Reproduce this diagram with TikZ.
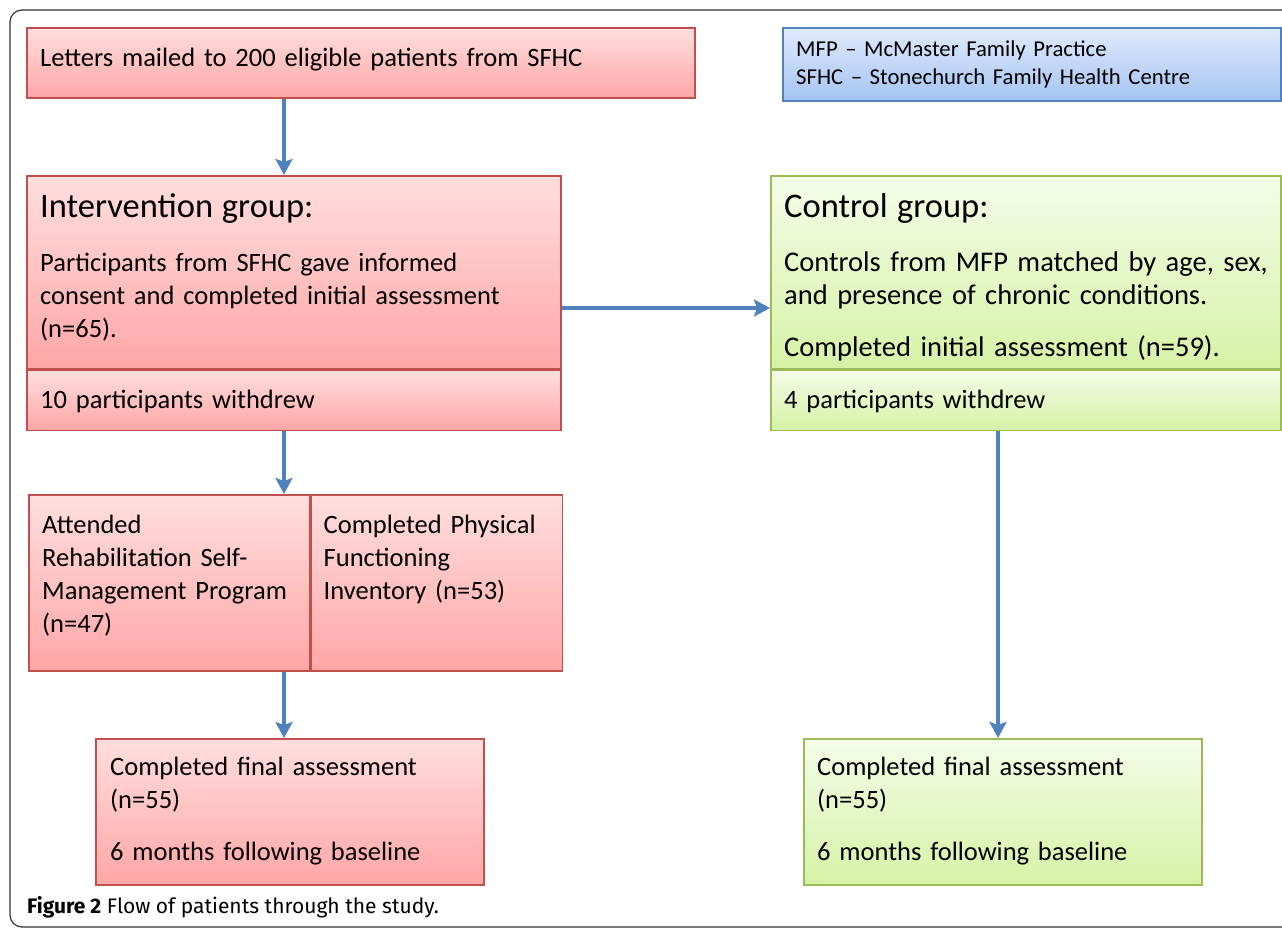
\documentclass[tikz,border=0pt]{standalone}
\usepackage{fontspec}
\setmainfont{Carlito}
\newfontfamily\captionfont{Fira Sans}
\usetikzlibrary{positioning,arrows.meta}
\definecolor{redline}{HTML}{C0504D}
\definecolor{redtop}{HTML}{FFDEDE}
\definecolor{redbot}{HTML}{FFA6A6}
\definecolor{greenline}{HTML}{9BBB59}
\definecolor{greentop}{HTML}{F4FCE8}
\definecolor{greenbot}{HTML}{D6F2A6}
\definecolor{blueline}{HTML}{4F81BD}
\definecolor{bluetop}{HTML}{DFEAFC}
\definecolor{bluebot}{HTML}{A6C4F2}
\definecolor{frameline}{HTML}{333333}
\newcommand{\titlesize}{\fontsize{34.5}{33}\selectfont}
\begin{document}
\begin{tikzpicture}[
        x=1pt, y=-1pt,
        redbox/.style={draw=redline, line width=1.5pt, top color=redtop, bottom color=redbot, inner sep=0pt},
        greenbox/.style={draw=greenline, line width=1.5pt, top color=greentop, bottom color=greenbot, inner sep=0pt},
        bluebox/.style={draw=blueline, line width=1.5pt, top color=bluetop, bottom color=bluebot, inner sep=0pt},
        boxtext/.style={anchor=base west, inner sep=0pt, align=left, text width=#1, font=\fontsize{26.5}{33}\selectfont},
        flowarrow/.style={draw=blueline, line width=4pt, -{Stealth[length=16pt, width=17pt, inset=3pt]}}
        ]
        \clip (0,0) rectangle (1282,929);
        \useasboundingbox (0,0) rectangle (1282,929);
        \fill[white] (0,0) rectangle (1282,929);
        \draw[frameline, line width=1.2pt, rounded corners=12pt] (10,10) rectangle (1320,927);

        % Boxes
        \node[redbox, anchor=north west, minimum width=668pt, minimum height=70pt] (letters) at (26,27) {};
        \node[bluebox, anchor=north west, minimum width=498pt, minimum height=73pt] (legend) at (782,27) {};
        \node[redbox, anchor=north west, minimum width=534pt, minimum height=193pt] (intervention) at (26,175) {};
        \node[redbox, minimum width=534pt, minimum height=60pt, below=0pt of intervention] (withdrawL) {};
        \node[greenbox, anchor=north west, minimum width=510pt, minimum height=193pt] (control) at (770,175) {};
        \node[greenbox, minimum width=510pt, minimum height=60pt, below=0pt of control] (withdrawR) {};
        \node[redbox, anchor=north west, minimum width=281pt, minimum height=176pt] (attended) at (28,494) {};
        \node[redbox, minimum width=251pt, minimum height=176pt, right=0pt of attended] (physical) {};
        \node[redbox, anchor=north west, minimum width=388pt, minimum height=146pt] (finalL) at (95,738) {};
        \node[greenbox, anchor=north west, minimum width=398pt, minimum height=146pt] (finalR) at (803,738) {};

        % Texts
        \node[boxtext=650pt] (lettersText) at ([xshift=14pt, yshift=-39pt]letters.north west) {Letters mailed to 200 eligible patients from SFHC};
        \node[boxtext=484pt, font=\fontsize{22.7}{28}\selectfont] (legendText) at ([xshift=14pt, yshift=-29pt]legend.north west)
            {MFP -- McMaster Family Practice\\SFHC -- Stonechurch Family Health Centre};
        \node[boxtext=515pt] (interventionText) at ([xshift=14pt, yshift=-42pt]intervention.north west)
            {{\titlesize Intervention group:}\\[21pt]Participants from SFHC gave informed\\consent and completed initial assessment\\(n=65).};
        \node[boxtext=515pt] (withdrawLText) at ([xshift=14pt, yshift=-39pt]withdrawL.north west) {10 participants withdrew};
        \node[boxtext=495pt, font=\fontsize{28.5}{33}\selectfont] (controlText) at ([xshift=14pt, yshift=-42pt]control.north west)
            {{\titlesize Control group:}\\[21pt]Controls from MFP matched by age, sex,\\and presence of chronic conditions.\\[19pt]Completed initial assessment (n=59).};
        \node[boxtext=495pt] (withdrawRText) at ([xshift=14pt, yshift=-39pt]withdrawR.north west) {4 participants withdrew};
        \node[boxtext=265pt] (attendedText) at ([xshift=14pt, yshift=-39pt]attended.north west)
            {Attended\\Rehabilitation Self-\\Management Program\\(n=47)};
        \node[boxtext=236pt] (physicalText) at ([xshift=13pt, yshift=-39pt]physical.north west)
            {Completed Physical\\Functioning\\Inventory (n=53)};
        \node[boxtext=372pt] (finalLText) at ([xshift=15pt, yshift=-37pt]finalL.north west)
            {Completed final assessment\\(n=55)\\[19pt]6 months following baseline};
        \node[boxtext=382pt] (finalRText) at ([xshift=14pt, yshift=-37pt]finalR.north west)
            {Completed final assessment\\(n=55)\\[19pt]6 months following baseline};
        \node[anchor=base west, inner sep=0pt, font=\captionfont\fontsize{21}{24}\selectfont] (caption) at (27,913)
            {\textbf{Figure 2} Flow of patients through the study.};

        % Arrows
        \coordinate (spine) at (284,0);
        \coordinate (rspine) at (998,0);
        \coordinate (hline) at (0,308);
        \draw[flowarrow] (letters.south -| spine) -- (intervention.north -| spine);
        \draw[flowarrow] (withdrawL.south -| spine) -- (attended.north -| spine);
        \draw[flowarrow] (attended.south -| spine) -- (finalL.north -| spine);
        \draw[flowarrow] (intervention.east |- hline) -- (control.west |- hline);
        \draw[flowarrow] (withdrawR.south -| rspine) -- (finalR.north -| rspine);
    \end{tikzpicture}
\end{document}
